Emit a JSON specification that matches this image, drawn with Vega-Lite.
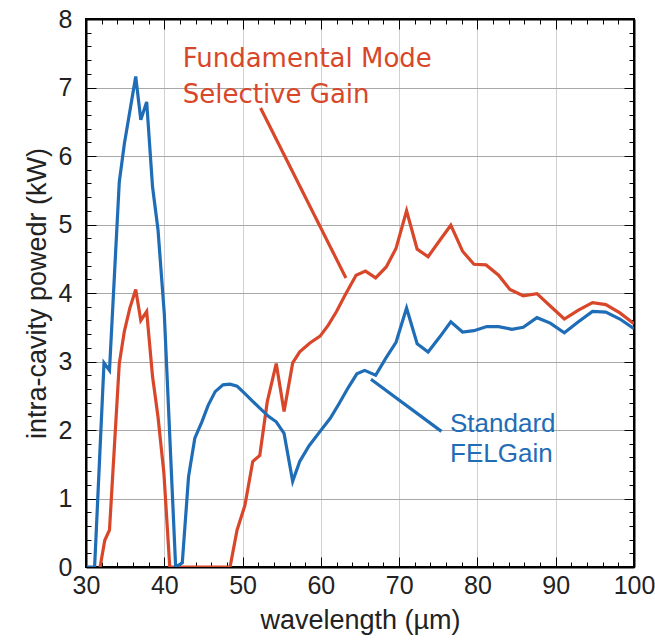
{
  "$schema": "https://vega.github.io/schema/vega-lite/v6.json",
  "width": 548,
  "height": 548,
  "autosize": {"type": "none"},
  "padding": {"left": 86, "top": 19, "right": 21, "bottom": 73},
  "background": "white",
  "config": {
    "view": {"stroke": "black", "strokeWidth": 2},
    "axis": {
      "domainColor": "black",
      "domainWidth": 2,
      "tickColor": "black",
      "tickWidth": 1,
      "labelFont": "Liberation Sans",
      "labelFontSize": 25,
      "labelColor": "#222222",
      "titleFont": "Liberation Sans",
      "titleFontSize": 27,
      "titleFontWeight": "normal",
      "titleColor": "#222222",
      "labelOverlap": false,
      "labelFlush": false
    }
  },
  "datasets": {
    "curves": [
      {"series": "Fundamental", "wavelength": 31.8, "power": 0},
      {"series": "Fundamental", "wavelength": 32.4, "power": 0.39},
      {"series": "Fundamental", "wavelength": 33.0, "power": 0.54},
      {"series": "Fundamental", "wavelength": 34.25, "power": 2.97},
      {"series": "Fundamental", "wavelength": 34.9, "power": 3.44},
      {"series": "Fundamental", "wavelength": 35.6, "power": 3.78},
      {"series": "Fundamental", "wavelength": 36.35, "power": 4.05},
      {"series": "Fundamental", "wavelength": 37.0, "power": 3.6},
      {"series": "Fundamental", "wavelength": 37.75, "power": 3.73},
      {"series": "Fundamental", "wavelength": 38.5, "power": 2.78},
      {"series": "Fundamental", "wavelength": 39.2, "power": 2.19},
      {"series": "Fundamental", "wavelength": 39.95, "power": 1.37},
      {"series": "Fundamental", "wavelength": 40.7, "power": 0},
      {"series": "Fundamental", "wavelength": 42.3, "power": 0},
      {"series": "Fundamental", "wavelength": 44.8, "power": 0},
      {"series": "Fundamental", "wavelength": 46.5, "power": 0},
      {"series": "Fundamental", "wavelength": 48.4, "power": 0},
      {"series": "Fundamental", "wavelength": 49.3, "power": 0.54},
      {"series": "Fundamental", "wavelength": 50.3, "power": 0.9},
      {"series": "Fundamental", "wavelength": 51.3, "power": 1.54},
      {"series": "Fundamental", "wavelength": 52.2, "power": 1.63},
      {"series": "Fundamental", "wavelength": 53.15, "power": 2.41},
      {"series": "Fundamental", "wavelength": 54.3, "power": 2.97},
      {"series": "Fundamental", "wavelength": 55.3, "power": 2.27},
      {"series": "Fundamental", "wavelength": 56.4, "power": 2.98},
      {"series": "Fundamental", "wavelength": 57.3, "power": 3.14},
      {"series": "Fundamental", "wavelength": 58.6, "power": 3.27},
      {"series": "Fundamental", "wavelength": 59.9, "power": 3.37},
      {"series": "Fundamental", "wavelength": 60.95, "power": 3.53},
      {"series": "Fundamental", "wavelength": 62.0, "power": 3.73},
      {"series": "Fundamental", "wavelength": 63.1, "power": 3.97},
      {"series": "Fundamental", "wavelength": 64.5, "power": 4.26},
      {"series": "Fundamental", "wavelength": 65.7, "power": 4.32},
      {"series": "Fundamental", "wavelength": 67.0, "power": 4.22},
      {"series": "Fundamental", "wavelength": 68.35, "power": 4.38},
      {"series": "Fundamental", "wavelength": 69.6, "power": 4.65},
      {"series": "Fundamental", "wavelength": 70.95, "power": 5.2},
      {"series": "Fundamental", "wavelength": 72.3, "power": 4.64},
      {"series": "Fundamental", "wavelength": 73.7, "power": 4.53},
      {"series": "Fundamental", "wavelength": 75.2, "power": 4.77},
      {"series": "Fundamental", "wavelength": 76.6, "power": 4.99},
      {"series": "Fundamental", "wavelength": 78.1, "power": 4.61},
      {"series": "Fundamental", "wavelength": 79.55, "power": 4.42},
      {"series": "Fundamental", "wavelength": 81.1, "power": 4.41},
      {"series": "Fundamental", "wavelength": 82.7, "power": 4.26},
      {"series": "Fundamental", "wavelength": 84.15, "power": 4.05},
      {"series": "Fundamental", "wavelength": 85.85, "power": 3.96},
      {"series": "Fundamental", "wavelength": 87.6, "power": 3.99},
      {"series": "Fundamental", "wavelength": 89.3, "power": 3.81},
      {"series": "Fundamental", "wavelength": 91.1, "power": 3.62},
      {"series": "Fundamental", "wavelength": 92.9, "power": 3.75},
      {"series": "Fundamental", "wavelength": 94.7, "power": 3.86},
      {"series": "Fundamental", "wavelength": 96.4, "power": 3.83},
      {"series": "Fundamental", "wavelength": 98.2, "power": 3.71},
      {"series": "Fundamental", "wavelength": 100.0, "power": 3.55},
      {"series": "Standard", "wavelength": 30.1, "power": 0},
      {"series": "Standard", "wavelength": 31.1, "power": 0},
      {"series": "Standard", "wavelength": 32.3, "power": 2.98},
      {"series": "Standard", "wavelength": 33.0, "power": 2.87},
      {"series": "Standard", "wavelength": 34.25, "power": 5.62},
      {"series": "Standard", "wavelength": 34.9, "power": 6.18},
      {"series": "Standard", "wavelength": 36.35, "power": 7.16},
      {"series": "Standard", "wavelength": 37.0, "power": 6.53},
      {"series": "Standard", "wavelength": 37.75, "power": 6.79},
      {"series": "Standard", "wavelength": 38.5, "power": 5.55},
      {"series": "Standard", "wavelength": 39.2, "power": 4.92},
      {"series": "Standard", "wavelength": 40.0, "power": 3.7},
      {"series": "Standard", "wavelength": 41.45, "power": 0},
      {"series": "Standard", "wavelength": 42.3, "power": 0.06},
      {"series": "Standard", "wavelength": 43.1, "power": 1.32},
      {"series": "Standard", "wavelength": 43.9, "power": 1.88},
      {"series": "Standard", "wavelength": 44.8, "power": 2.12},
      {"series": "Standard", "wavelength": 45.6, "power": 2.36},
      {"series": "Standard", "wavelength": 46.5, "power": 2.56},
      {"series": "Standard", "wavelength": 47.5, "power": 2.66},
      {"series": "Standard", "wavelength": 48.4, "power": 2.67},
      {"series": "Standard", "wavelength": 49.3, "power": 2.64},
      {"series": "Standard", "wavelength": 50.3, "power": 2.53},
      {"series": "Standard", "wavelength": 51.2, "power": 2.43},
      {"series": "Standard", "wavelength": 52.2, "power": 2.32},
      {"series": "Standard", "wavelength": 53.3, "power": 2.2},
      {"series": "Standard", "wavelength": 54.3, "power": 2.12},
      {"series": "Standard", "wavelength": 55.3, "power": 1.95},
      {"series": "Standard", "wavelength": 56.4, "power": 1.25},
      {"series": "Standard", "wavelength": 57.3, "power": 1.54},
      {"series": "Standard", "wavelength": 58.5, "power": 1.77},
      {"series": "Standard", "wavelength": 59.9, "power": 1.98},
      {"series": "Standard", "wavelength": 61.2, "power": 2.17},
      {"series": "Standard", "wavelength": 62.3, "power": 2.38},
      {"series": "Standard", "wavelength": 63.5, "power": 2.62},
      {"series": "Standard", "wavelength": 64.6, "power": 2.82},
      {"series": "Standard", "wavelength": 65.6, "power": 2.87},
      {"series": "Standard", "wavelength": 67.0, "power": 2.8},
      {"series": "Standard", "wavelength": 68.3, "power": 3.05},
      {"series": "Standard", "wavelength": 69.6, "power": 3.28},
      {"series": "Standard", "wavelength": 70.95, "power": 3.78},
      {"series": "Standard", "wavelength": 72.3, "power": 3.26},
      {"series": "Standard", "wavelength": 73.7, "power": 3.14},
      {"series": "Standard", "wavelength": 75.2, "power": 3.36},
      {"series": "Standard", "wavelength": 76.6, "power": 3.58},
      {"series": "Standard", "wavelength": 78.1, "power": 3.43},
      {"series": "Standard", "wavelength": 79.55, "power": 3.45},
      {"series": "Standard", "wavelength": 81.2, "power": 3.51},
      {"series": "Standard", "wavelength": 82.7, "power": 3.51},
      {"series": "Standard", "wavelength": 84.4, "power": 3.47},
      {"series": "Standard", "wavelength": 85.85, "power": 3.5},
      {"series": "Standard", "wavelength": 87.6, "power": 3.64},
      {"series": "Standard", "wavelength": 89.3, "power": 3.56},
      {"series": "Standard", "wavelength": 91.1, "power": 3.42},
      {"series": "Standard", "wavelength": 92.9, "power": 3.58},
      {"series": "Standard", "wavelength": 94.7, "power": 3.73},
      {"series": "Standard", "wavelength": 96.4, "power": 3.72},
      {"series": "Standard", "wavelength": 98.2, "power": 3.62},
      {"series": "Standard", "wavelength": 100.0, "power": 3.48}
    ],
    "pointers": [
      {"series": "Fundamental", "x1": 52.3, "y1": 6.7, "x2": 63.2, "y2": 4.22},
      {"series": "Standard", "x1": 66.4, "y1": 2.74, "x2": 75.4, "y2": 1.98}
    ],
    "redLabels": [
      {"text": "Fundamental Mode", "x": 42.35, "y": 7.3},
      {"text": "Selective Gain", "x": 42.35, "y": 6.77}
    ],
    "blueLabels": [
      {"text": "Standard", "x": 76.5, "y": 1.975},
      {"text": "FELGain", "x": 76.5, "y": 1.54}
    ]
  },
  "layer": [
    {
      "data": {"name": "curves"},
      "mark": {"type": "line", "strokeWidth": 3.2, "strokeJoin": "miter", "clip": true},
      "encoding": {
        "x": {
          "field": "wavelength", "type": "quantitative",
          "scale": {"domain": [30, 100], "nice": false, "zero": false},
          "axis": {
            "orient": "bottom",
            "title": "wavelength (µm)",
            "values": [30,32,34,36,38,40,42,44,46,48,50,52,54,56,58,60,62,64,66,68,70,72,74,76,78,80,82,84,86,88,90,92,94,96,98,100],
            "labelExpr": "datum.value % 10 === 0 ? format(datum.value, 'd') : ''",
            "grid": true,
            "gridColor": "#d0d0d0",
            "gridWidth": 1,
            "gridOpacity": {"condition": {"test": "datum.value % 10 === 0", "value": 1}, "value": 0},
            "tickSize": {"condition": {"test": "datum.value % 10 === 0", "value": -10}, "value": -5},
            "labelPadding": 16,
            "titlePadding": 4
          }
        },
        "y": {
          "field": "power", "type": "quantitative",
          "scale": {"domain": [0, 8], "nice": false},
          "axis": {
            "orient": "left",
            "title": "intra-cavity powedr (kW)",
            "values": [0,0.2,0.4,0.6,0.8,1,1.2,1.4,1.6,1.8,2,2.2,2.4,2.6,2.8,3,3.2,3.4,3.6,3.8,4,4.2,4.4,4.6,4.8,5,5.2,5.4,5.6,5.8,6,6.2,6.4,6.6,6.8,7,7.2,7.4,7.6,7.8,8],
            "labelExpr": "abs(datum.value - round(datum.value)) < 0.001 ? format(datum.value, 'd') : ''",
            "grid": true,
            "gridColor": "#a8a8a8",
            "gridWidth": 1,
            "gridOpacity": {"condition": {"test": "abs(datum.value - round(datum.value)) < 0.001", "value": 1}, "value": 0},
            "tickSize": {"condition": {"test": "abs(datum.value - round(datum.value)) < 0.001", "value": -10}, "value": -5},
            "labelPadding": 24,
            "titlePadding": 7
          }
        },
        "color": {
          "field": "series", "type": "nominal",
          "scale": {"domain": ["Fundamental", "Standard"], "range": ["#d8472a", "#1f6db6"]},
          "legend": null
        },
        "order": {"field": "wavelength", "type": "quantitative"}
      }
    },
    {
      "data": {"name": "pointers"},
      "mark": {"type": "rule", "strokeWidth": 3.2},
      "encoding": {
        "x": {
          "field": "x1", "type": "quantitative",
          "scale": {"domain": [30, 100], "nice": false, "zero": false},
          "axis": {
            "orient": "top",
            "title": null,
            "labels": false,
            "grid": false,
            "values": [30,32,34,36,38,40,42,44,46,48,50,52,54,56,58,60,62,64,66,68,70,72,74,76,78,80,82,84,86,88,90,92,94,96,98,100],
            "tickSize": {"condition": {"test": "datum.value % 10 === 0", "value": -10}, "value": -5}
          }
        },
        "x2": {"field": "x2"},
        "y": {
          "field": "y1", "type": "quantitative",
          "scale": {"domain": [0, 8], "nice": false},
          "axis": {
            "orient": "right",
            "title": null,
            "labels": false,
            "grid": false,
            "values": [0,0.2,0.4,0.6,0.8,1,1.2,1.4,1.6,1.8,2,2.2,2.4,2.6,2.8,3,3.2,3.4,3.6,3.8,4,4.2,4.4,4.6,4.8,5,5.2,5.4,5.6,5.8,6,6.2,6.4,6.6,6.8,7,7.2,7.4,7.6,7.8,8],
            "tickSize": {"condition": {"test": "abs(datum.value - round(datum.value)) < 0.001", "value": -10}, "value": -5}
          }
        },
        "y2": {"field": "y2"},
        "color": {"field": "series", "type": "nominal", "legend": null}
      }
    },
    {
      "data": {"name": "redLabels"},
      "mark": {"type": "text", "align": "left", "baseline": "alphabetic", "font": "DejaVu Sans", "fontSize": 26, "color": "#d8472a"},
      "encoding": {
        "x": {"field": "x", "type": "quantitative", "axis": null},
        "y": {"field": "y", "type": "quantitative", "axis": null},
        "text": {"field": "text"}
      }
    },
    {
      "data": {"name": "blueLabels"},
      "mark": {"type": "text", "align": "left", "baseline": "alphabetic", "font": "Liberation Sans", "fontSize": 26, "color": "#1f6db6"},
      "encoding": {
        "x": {"field": "x", "type": "quantitative", "axis": null},
        "y": {"field": "y", "type": "quantitative", "axis": null},
        "text": {"field": "text"}
      }
    }
  ],
  "resolve": {"axis": {"x": "independent", "y": "independent"}}
}
